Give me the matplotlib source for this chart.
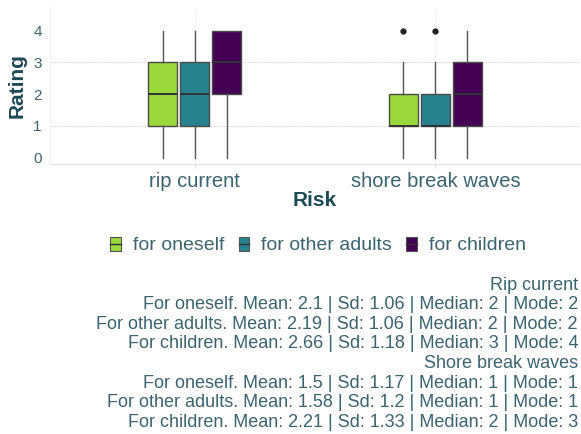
import matplotlib.pyplot as plt
from matplotlib.patches import Rectangle
from matplotlib.lines import Line2D
from matplotlib.legend_handler import HandlerBase

plt.rcParams['font.family'] = ['Liberation Sans', 'DejaVu Sans']

risks = ['rip current', 'shore break waves']
groups = ['for oneself', 'for other adults', 'for children']
colors = ['#9AD83B', '#25828E', '#440154']

# five-number summaries per risk, per group
whislo = [[0, 0, 0], [0, 0, 0]]
q1 = [[1, 1, 2], [1, 1, 1]]
med = [[2, 2, 3], [1, 1, 2]]
q3 = [[3, 3, 4], [2, 2, 3]]
whishi = [[4, 4, 4], [3, 3, 4]]
fliers = [[[], [], []], [[4], [4], []]]

# summary statistics printed under the plot
stat_titles = ['Rip current', 'Shore break waves']
stat_groups = ['For oneself', 'For other adults', 'For children']
means = [[2.1, 2.19, 2.66], [1.5, 1.58, 2.21]]
sds = [[1.06, 1.06, 1.18], [1.17, 1.2, 1.33]]
medians = [[2, 2, 3], [1, 1, 2]]
modes = [[2, 2, 4], [1, 1, 3]]

text_col = '#3a6470'
title_col = '#1e4a58'

fig = plt.figure(figsize=(5.81, 4.34), dpi=100)
ax = fig.add_axes([50 / 581, 1 - 164 / 434, 530 / 581, 157 / 434])

offsets = [-0.133, 0, 0.133]
for i in range(len(risks)):
    for j in range(len(groups)):
        st = [dict(whislo=whislo[i][j], q1=q1[i][j], med=med[i][j],
                   q3=q3[i][j], whishi=whishi[i][j], fliers=fliers[i][j])]
        ax.bxp(st, positions=[i + 1 + offsets[j]], widths=0.12,
               patch_artist=True, showcaps=False,
               boxprops=dict(facecolor=colors[j], edgecolor='#4a4a4a', linewidth=1),
               medianprops=dict(color='#333333', linewidth=1.4),
               whiskerprops=dict(color='#555555', linewidth=1),
               flierprops=dict(marker='o', markerfacecolor='#222222',
                               markeredgecolor='#222222', markersize=3.5),
               zorder=3)

ax.set_xlim(0.4, 2.6)
ax.set_ylim(-0.2, 4.74)
ax.set_xticks([1, 2])
ax.set_xticklabels(risks, fontsize=14.5, color=text_col)
ax.set_yticks([0, 1, 2, 3, 4])
ax.set_yticklabels(['0', '1', '2', '3', '4'], fontsize=11, color=text_col)
ax.tick_params(axis='y', length=0, pad=6)
ax.tick_params(axis='x', length=3, color='#dddddd', pad=3)

for y in [1, 3]:
    ax.axhline(y, color='#dcdcdc', linewidth=0.8, linestyle=(0, (2, 1)), zorder=0)
for x in [1, 2]:
    ax.axvline(x, color='#ececec', linewidth=0.8, linestyle=(0, (2, 1)), zorder=0)

for side in ['top', 'right']:
    ax.spines[side].set_visible(False)
ax.spines['bottom'].set_color('#e3e3e3')
ax.spines['left'].set_color('#f2f2f2')

ax.set_ylabel('Rating', fontsize=15, fontweight='bold', color=title_col, labelpad=5)
ax.set_xlabel('Risk', fontsize=15, fontweight='bold', color=title_col, labelpad=0)


class BoxKey(HandlerBase):
    def create_artists(self, legend, orig, xd, yd, w, h, fontsize, trans):
        bw = w * 0.55
        x0 = xd + (w - bw) / 2
        rect = Rectangle((x0, yd - h * 0.05), bw, h * 1.1,
                         facecolor=orig.get_facecolor(), edgecolor='#555555',
                         linewidth=0.8, transform=trans)
        line = Line2D([x0, x0 + bw], [yd + h / 2, yd + h / 2],
                      color='#333333', linewidth=1, transform=trans)
        return [rect, line]


handles = [Rectangle((0, 0), 1, 1, facecolor=c) for c in colors]
fig.legend(handles, groups, handler_map={Rectangle: BoxKey()},
           loc='center', bbox_to_anchor=(316 / 581, 1 - 245 / 434),
           ncol=3, frameon=False, fontsize=14, labelcolor=text_col,
           handlelength=1.0, handleheight=0.6, handletextpad=0.4,
           columnspacing=0.5)

lines = []
for i in range(len(stat_titles)):
    lines.append(stat_titles[i])
    for j in range(len(stat_groups)):
        lines.append(f'{stat_groups[j]}. Mean: {means[i][j]:g} | Sd: {sds[i][j]:g} | '
                     f'Median: {medians[i][j]} | Mode: {modes[i][j]}')

for k, s in enumerate(lines):
    fig.text(578 / 581, 1 - (285 + k * 19.6) / 434, s, ha='right', va='center',
             fontsize=13, color=text_col)

fig.savefig('out.png', dpi=100)
